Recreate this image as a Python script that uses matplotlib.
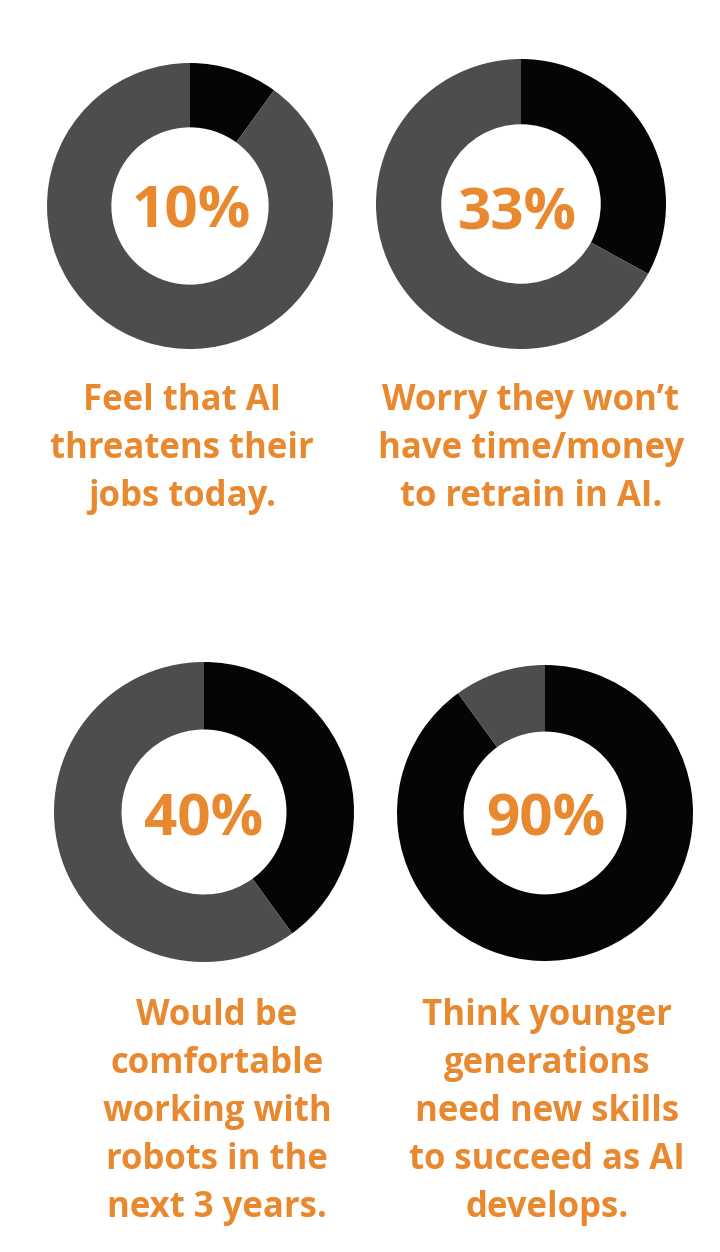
import matplotlib
matplotlib.use("Agg")
import matplotlib.pyplot as plt

# survey shares (percent that agree) -- black slice of each ring
values = [10, 33, 40, 90]
pct_labels = ["10%", "33%", "40%", "90%"]
captions = [
    ["Feel that AI", "threatens their", "jobs today."],
    ["Worry they won\u2019t", "have time/money", "to retrain in AI."],
    ["Would be", "comfortable", "working with", "robots in the", "next 3 years."],
    ["Think younger", "generations", "need new skills", "to succeed as AI", "develops."],
]

# layout in pixels (y measured from top of image)
W, H = 720, 1252
centers = [(190, 206), (521, 204), (204, 812), (545, 813)]
radii = [143, 145, 150, 148]
pct_pos = [(191, 227), (517, 229), (204, 836), (546, 836)]
caption_x = [182, 531, 217, 547]
caption_top = [410, 410, 1025, 1025]
line_step = 48

ORANGE = "#e8892f"
BLACK = "#050505"
GRAY = "#4d4d4d"

plt.rcParams["font.family"] = ["Open Sans", "DejaVu Sans"]

fig = plt.figure(figsize=(W / 100, H / 100), dpi=100)
ax = fig.add_axes([0, 0, 1, 1])

for v, (cx, cy), r in zip(values, centers, radii):
    ax.pie([v, 100 - v], colors=[BLACK, GRAY], startangle=90, counterclock=False,
           center=(cx, H - cy), radius=r, frame=True,
           wedgeprops=dict(width=r * 0.45, linewidth=0))

for lab, (x, y) in zip(pct_labels, pct_pos):
    ax.text(x, H - y, lab, ha="center", va="baseline", fontsize=42,
            fontweight="bold", color=ORANGE)

for lines, x, y0 in zip(captions, caption_x, caption_top):
    for i, line in enumerate(lines):
        ax.text(x, H - (y0 + i * line_step), line, ha="center", va="baseline",
                fontsize=25, fontweight="bold", color=ORANGE)

ax.set_xlim(0, W)
ax.set_ylim(0, H)
ax.set_aspect("equal")
ax.axis("off")

fig.savefig("out.png", dpi=100, facecolor="white")
